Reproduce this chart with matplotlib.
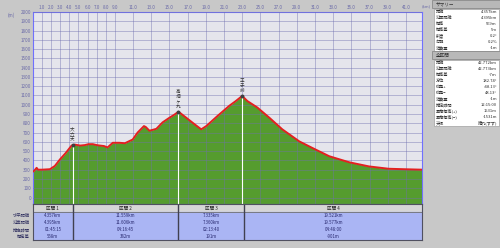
import matplotlib
matplotlib.use("Agg")
import matplotlib.pyplot as plt
from matplotlib.patches import Rectangle

plt.rcParams['font.family'] = ['Noto Sans CJK JP', 'DejaVu Sans']

# elevation profile (km, m)
dist = [0.0, 0.1, 0.4, 0.55, 1.0, 1.86, 2.4, 2.96, 3.6, 4.24, 4.6, 5.2, 5.7, 6.1,
        6.58, 7.0, 7.35, 7.8, 8.2, 8.77, 9.5, 10.1, 10.96, 11.5, 12.2, 12.4, 12.8,
        13.56, 14.25, 15.0, 15.5, 16.0, 16.85, 17.76, 18.5, 19.05, 20.3, 21.6,
        22.3, 23.0, 23.57, 24.67, 25.99, 27.41, 29.28, 30.7, 32.57, 34.76,
        36.95, 39.1, 40.8, 42.772]
elev = [280, 285, 320, 300, 300, 305, 340, 410, 480, 560, 570, 560, 565, 575,
        575, 565, 560, 555, 540, 590, 590, 585, 625, 700, 770, 760, 720,
        740, 810, 860, 890, 925, 860, 790, 735, 770, 880, 990,
        1040, 1095, 1040, 970, 860, 735, 605, 535, 445, 380,
        335, 310, 305, 300]

# waypoints
peak_names = ["大六天", "高畑ヶ丸", "王子峠"]
peak_km = [4.357, 15.916, 23.0]

# sections
sections = ["区間 1", "区間 2", "区間 3", "区間 4"]
section_bounds = [0.0, 4.357, 15.916, 23.251, 42.772]
row_labels = ["水平距離", "沿面距離", "推定時間", "標高差"]
sec_dist = ["4.357km", "11.559km", "7.335km", "19.521km"]
sec_surf = ["4.395km", "11.606km", "7.360km", "19.577km"]
sec_time = ["01:45:15", "04:16:45", "02:13:40", "04:48:00"]
sec_diff = ["568m", "382m", "191m", "-901m"]

# side panel
summary_labels = ["距離", "沿面距離", "標高", "標高差", "斜度", "勾配", "消費量"]
summary_values = ["4.357km", "4.395km", "569m", "5m", "0.2°", "0.2%", "-1m"]
all_labels = ["距離", "沿面距離", "標高差", "方位", "仰角+", "仰角−", "消費量",
              "推定時間", "累積標高(+)", "累積標高(−)", "天候"]
all_values = ["42.772km", "42.773km", "-7m", "182.74°", "-48.13°", "48.13°",
              "-1m", "12:15:00", "1531m", "-1531m", "晴れ(すず)"]

xticks = [1, 2, 3, 4, 5, 6, 7, 8, 9] + list(range(11, 42, 2))
yticks = list(range(0, 2001, 100))

W, H = 500, 248
fig = plt.figure(figsize=(5, 2.48), dpi=100)
fig.patch.set_facecolor("#c8c8c8")

ax = fig.add_axes([33/W, 1-204/H, 389/W, 192/H])
ax.set_facecolor("#e5e5ec")
ax.set_xlim(0, 42.772)
ax.set_ylim(-70, 2000)
ax.fill_between(dist, elev, -70, color="#559c2e", lw=0, zorder=1)
ax.plot(dist, elev, color="#e32020", lw=1.4, zorder=3)
ax.set_xticks(xticks)
ax.set_xticklabels(["%.1f" % t for t in xticks])
ax.set_yticks(yticks)
ax.xaxis.tick_top()
ax.tick_params(length=0, labelsize=3.3, colors="#6a6aa8", pad=1.5)
ax.grid(True, color="#7070b0", lw=0.6, alpha=0.5)
ax.set_axisbelow(False)
for s in ax.spines.values():
    s.set_color("#7070ff")
    s.set_linewidth(0.8)

for name, km in zip(peak_names, peak_km):
    top = max(e for d, e in zip(dist, elev) if abs(d - km) < 0.6)
    ax.vlines(km, -70, top, color="white", lw=0.8, zorder=4)
    ax.plot(km, top, "o", color="#404040", ms=1.8, zorder=5)
    ax.text(km, top + 35, "\n".join(name), fontsize=3.3, ha="center",
            va="bottom", color="#303030", linespacing=0.95, zorder=5)

fig.text(8/W, 1-15/H, "(m)", fontsize=3.3, color="#6a6aa8", va="center")
fig.text(422/W, 1-6/H, "(km)", fontsize=3.0, color="#6a6aa8", va="center")

# section table
tax = fig.add_axes([33/W, 1-240/H, 389/W, 36/H])
tax.set_xlim(0, 42.772)
tax.set_ylim(0, 36)
tax.axhspan(28, 36, color="#d6d6d6")
tax.axhspan(0, 28, color="#aab5f4")
tax.axhline(28, color="#707070", lw=0.6)
tax.vlines(section_bounds[1:-1], 0, 36, color="#404050", lw=1.0)
tax.set_xticks([])
tax.set_yticks([])
for s in tax.spines.values():
    s.set_color("#505060")
    s.set_linewidth(0.8)
cols = [sec_dist, sec_surf, sec_time, sec_diff]
for i, sec in enumerate(sections):
    cx = (section_bounds[i] + section_bounds[i + 1]) / 2
    tax.text(cx, 32, sec, fontsize=3.3, ha="center", va="center", color="#202020")
    for r, col in enumerate(cols):
        tax.text(cx, 28 - 7 * (r + 0.5), col[i], fontsize=3.1, ha="center",
                 va="center", color="#2a2a70")
for r, lab in enumerate(row_labels):
    fig.text(30/W, 1-(212 + 7 * (r + 0.5))/H, lab, fontsize=3.1, ha="right",
             va="center", color="#303060")

# side panel
pax = fig.add_axes([431/W, 0, 69/W, 1])
pax.set_xlim(0, 69)
pax.set_ylim(248, 0)
pax.axis("off")


def panel(y0, title, labels, values):
    pax.add_patch(Rectangle((0.5, y0), 68, 8, fc="#b8b8b8", ec="#8a8a8a", lw=0.6))
    pax.text(5, y0 + 4, title, fontsize=3.3, va="center", color="#303030")
    h = 6 * len(labels)
    pax.add_patch(Rectangle((2.5, y0 + 9), 65, h, fc="white", ec="#a0a0a0", lw=0.5))
    for i, (lab, val) in enumerate(zip(labels, values)):
        yy = y0 + 9 + 6 * (i + 0.5)
        pax.text(5, yy, lab, fontsize=3.0, va="center", color="#303030")
        pax.text(66, yy, val, fontsize=3.0, va="center", ha="right", color="#303030")


panel(0, "サマリー", summary_labels, summary_values)
panel(51, "全区間", all_labels, all_values)

fig.savefig("out.png", dpi=100, facecolor=fig.get_facecolor())
